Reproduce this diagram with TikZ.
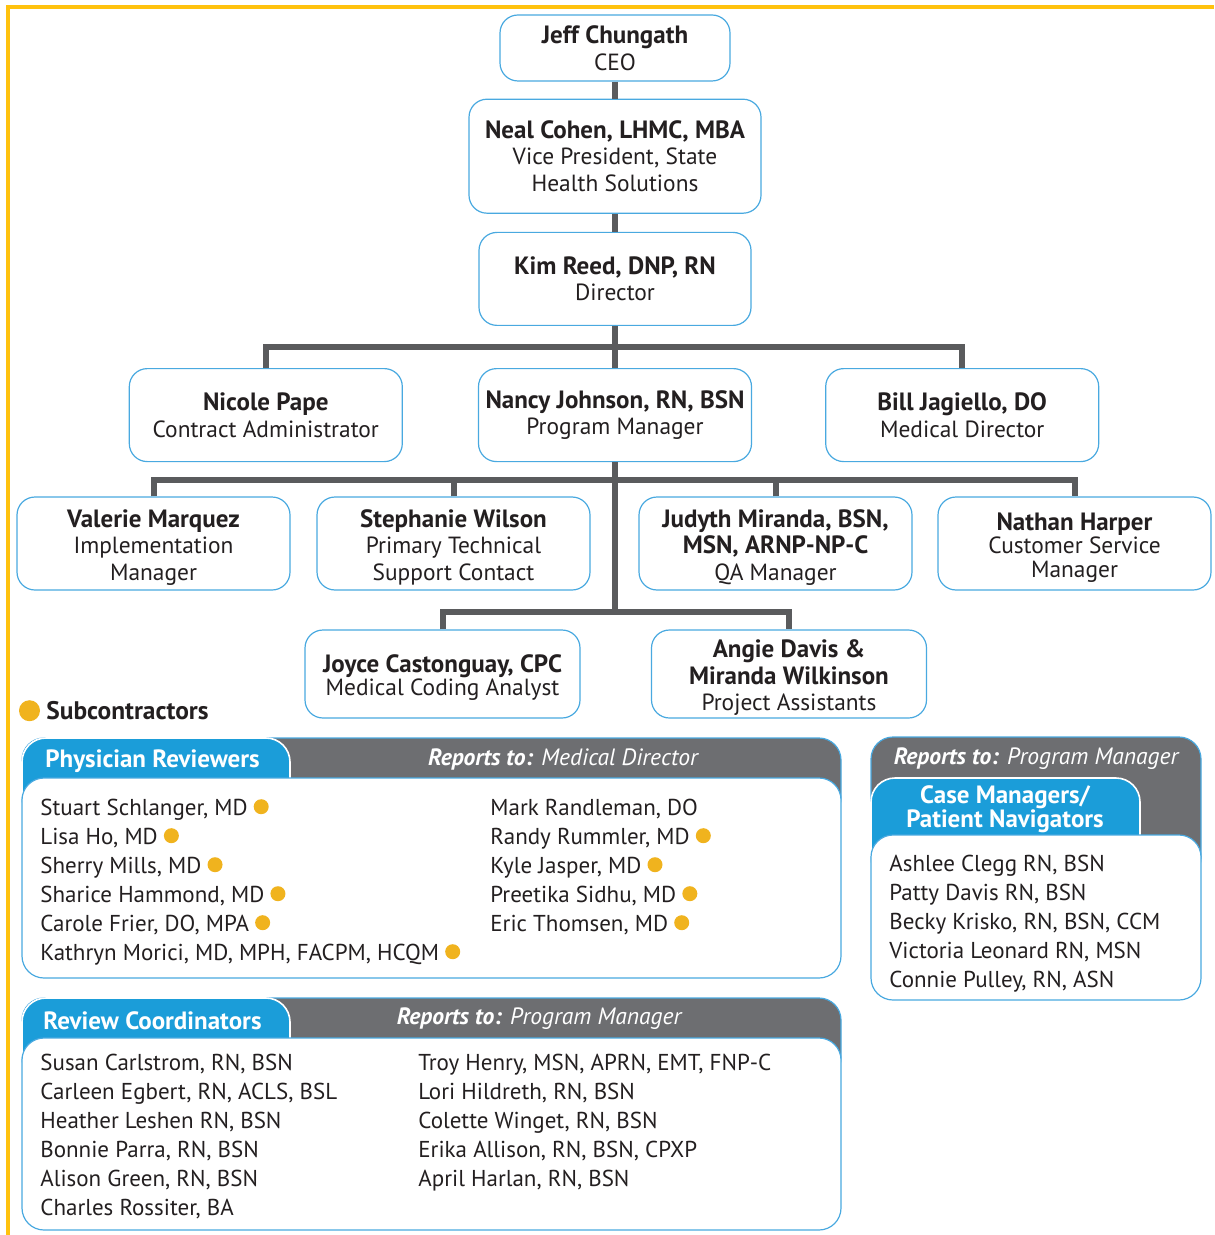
\documentclass[tikz,border=0pt]{standalone}
\usepackage{fontspec}
\setmainfont{PT Sans}
\usetikzlibrary{positioning,calc}
\definecolor{tabblue}{HTML}{1B9DD9}
\definecolor{hdrgray}{HTML}{6D6E71}
\definecolor{boxblue}{HTML}{49A9E0}
\definecolor{linegray}{HTML}{5A5B5D}
\definecolor{subyellow}{HTML}{F0B31E}
\definecolor{bordery}{HTML}{FFC20E}
\definecolor{textblack}{HTML}{231F20}
\tikzset{
  orgbox/.style={draw=boxblue,line width=0.6pt,rounded corners=9pt,fill=white,
                 align=center,text=textblack,inner sep=2pt,
                 font=\fontsize{11.7}{13.25}\selectfont},
  conn/.style={draw=linegray,line width=3pt}
}
\newcommand{\nm}[1]{{\fontsize{12.5}{\the\baselineskip}\selectfont\bfseries #1}}
% first name line with a taller strut, to sit the text a little lower
\newcommand{\nmt}[1]{\rule{0pt}{12.6pt}\nm{#1}}
\newcommand{\subdot}{\tikz[baseline=0pt]\fill[subyellow] (0pt,4.15pt) circle (3.75pt);}

\begin{document}
\begin{tikzpicture}[x=0.5pt,y=-0.5pt,
          listname/.style={anchor=base west,inner sep=0pt,text=textblack,
                           font=\fontsize{11.5}{14.5}\selectfont},
          tablabel/.style={text=white,inner sep=0pt,align=center,
                           font=\fontsize{12.5}{12}\selectfont\bfseries},
          hdrlabel/.style={text=white,inner sep=0pt,
                           font=\fontsize{11.8}{12}\selectfont\itshape},
          panelback/.style={fill=hdrgray,draw=boxblue,line width=0.6pt,rounded corners=11pt},
          paneltab/.style={fill=tabblue,draw=white,line width=0.8pt,rounded corners=12pt},
          panelbody/.style={fill=white,draw=boxblue,line width=0.6pt,rounded corners=11pt}]
  \useasboundingbox (0,0) rectangle (1214,1235);
  \draw[bordery,line width=1.6pt] (8,1235) -- (8,7) -- (1214,7);

  % management chain
  \node[orgbox,minimum width=115pt,minimum height=33pt] (ceo) at (615,48)
       {\nm{Jeff Chungath}\\CEO};
  \node[orgbox,minimum width=146pt,minimum height=57pt,below=8.5pt of ceo] (vp)
       {\nm{Neal Cohen, LHMC, MBA}\\Vice President, State\\Health Solutions};
  \node[orgbox,minimum width=136pt,minimum height=46.5pt,below=9pt of vp] (dir)
       {\nm{Kim Reed, DNP, RN}\\Director};
  \node[orgbox,minimum width=136.5pt,minimum height=46.5pt,below=21pt of dir] (pm)
       {\nm{Nancy Johnson, RN, BSN}\\Program Manager};
  \node[orgbox,minimum width=136.5pt,minimum height=46.5pt,left=37.5pt of pm] (ca)
       {\nm{Nicole Pape}\\Contract Administrator};
  \node[orgbox,minimum width=136.5pt,minimum height=46.5pt,right=36.5pt of pm] (md)
       {\nm{Bill Jagiello, DO}\\Medical Director};

  % program staff
  \node[orgbox,minimum width=136.5pt,minimum height=46.5pt] (im) at (153.5,543.5)
       {\nmt{Valerie Marquez}\\Implementation\\Manager};
  \node[orgbox,minimum width=136.5pt,minimum height=46.5pt] (ts) at (453.5,543.5)
       {\nmt{Stephanie Wilson}\\Primary Technical\\Support Contact};
  \node[orgbox,minimum width=136.5pt,minimum height=46.5pt] (qa) at (775.5,543.5)
       {\nmt{Judyth Miranda, BSN,}\\\nm{MSN, ARNP-NP-C}\\QA Manager};
  \node[orgbox,minimum width=136.5pt,minimum height=46.5pt,
        font=\fontsize{11.7}{11.75}\selectfont] (cs) at (1074.5,543.5)
       {\nmt{Nathan Harper}\\Customer Service\\Manager};
  \node[orgbox,minimum width=137.5pt,minimum height=44pt,
        font=\fontsize{11.7}{11.75}\selectfont] (jc) at (442.5,674)
       {\nmt{Joyce Castonguay, CPC}\\Medical Coding Analyst};
  \node[orgbox,inner ysep=0pt,minimum width=137.5pt,minimum height=44pt] (ad) at (789,674)
       {\nmt{Angie Davis \&}\\\nm{Miranda Wilkinson}\\Project Assistants};

  \draw[conn] (ceo) -- (vp);
  \draw[conn] (vp) -- (dir);
  \draw[conn] (dir) -- (pm);
  \coordinate (bus1) at ($(dir.south)!0.5!(pm.north)$);
  \draw[conn] (ca.north) |- (bus1) -| (md.north);
  \coordinate (bus2) at (615,480);
  \coordinate (bus3) at (615,612);
  \draw[conn] (pm) -- (bus3);
  \draw[conn] (im.north) |- (bus2) -| (cs.north);
  \draw[conn] (ts.north) -- (ts.north |- bus2);
  \draw[conn] (qa.north) -- (qa.north |- bus2);
  \draw[conn] (jc.north) |- (bus3) -| (ad.north);

  % legend
  \fill[subyellow] (29.5,710.7) circle (5.25pt);
  \node[listname,font=\fontsize{12.7}{14.5}\selectfont\bfseries] (subleg) at (46,719) {Subcontractors};

  % physician reviewers
  \filldraw[panelback] (22,738) rectangle (841,820);
  \filldraw[paneltab] (22,738) rectangle (290,820);
  \filldraw[panelbody] (22,778) rectangle (841,978);
  \node[tablabel] (phtab) at (152.5,761) {Physician Reviewers};
  \node[hdrlabel] (phhdr) at (563,759) {\textbf{Reports to:} Medical Director};
  \foreach \txt [count=\i] in {{Stuart Schlanger, MD \subdot},{Lisa Ho, MD \subdot},
      {Sherry Mills, MD \subdot},{Sharice Hammond, MD \subdot},{Carole Frier, DO, MPA \subdot},
      {Kathryn Morici, MD, MPH, FACPM, HCQM \subdot}}
    \node[listname] (phl\i) at (40,{815+29*(\i-1)}) {\txt};
  \foreach \txt [count=\i] in {{Mark Randleman, DO},{Randy Rummler, MD \subdot},
      {Kyle Jasper, MD \subdot},{Preetika Sidhu, MD \subdot},{Eric Thomsen, MD \subdot}}
    \node[listname] (phr\i) at (490,{815+29*(\i-1)}) {\txt};

  % review coordinators
  \filldraw[panelback] (22,998) rectangle (841,1080);
  \filldraw[paneltab] (22,998) rectangle (290,1080);
  \filldraw[panelbody] (22,1038) rectangle (841,1230);
  \node[tablabel] (rctab) at (152.5,1021) {Review Coordinators};
  \node[hdrlabel] (rchdr) at (539,1019) {\textbf{Reports to:} Program Manager};
  \foreach \txt [count=\i] in {{Susan Carlstrom, RN, BSN},{Carleen Egbert, RN, ACLS, BSL},
      {Heather Leshen RN, BSN},{Bonnie Parra, RN, BSN},{Alison Green, RN, BSN},
      {Charles Rossiter, BA}}
    \node[listname] (rcl\i) at (40,{1070+29*(\i-1)}) {\txt};
  \foreach \txt [count=\i] in {{Troy Henry, MSN, APRN, EMT, FNP-C},{Lori Hildreth, RN, BSN},
      {Colette Winget, RN, BSN},{Erika Allison, RN, BSN, CPXP},{April Harlan, RN, BSN}}
    \node[listname] (rcr\i) at (418,{1070+29*(\i-1)}) {\txt};

  % case managers
  \filldraw[panelback] (871,737) rectangle (1201,880);
  \filldraw[paneltab] (871,778) rectangle (1140,880);
  \filldraw[panelbody] (871,835) rectangle (1201,1000);
  \node[hdrlabel] (cmhdr) at (1036,759) {\textbf{Reports to:} Program Manager};
  \node[tablabel] (cmtab) at (1005,809) {Case Managers/\\Patient Navigators};
  \foreach \txt [count=\i] in {{Ashlee Clegg RN, BSN},{Patty Davis RN, BSN},
      {Becky Krisko, RN, BSN, CCM},{Victoria Leonard RN, MSN},{Connie Pulley, RN, ASN}}
    \node[listname] (cml\i) at (889,{871+29*(\i-1)}) {\txt};
\end{tikzpicture}
\end{document}
